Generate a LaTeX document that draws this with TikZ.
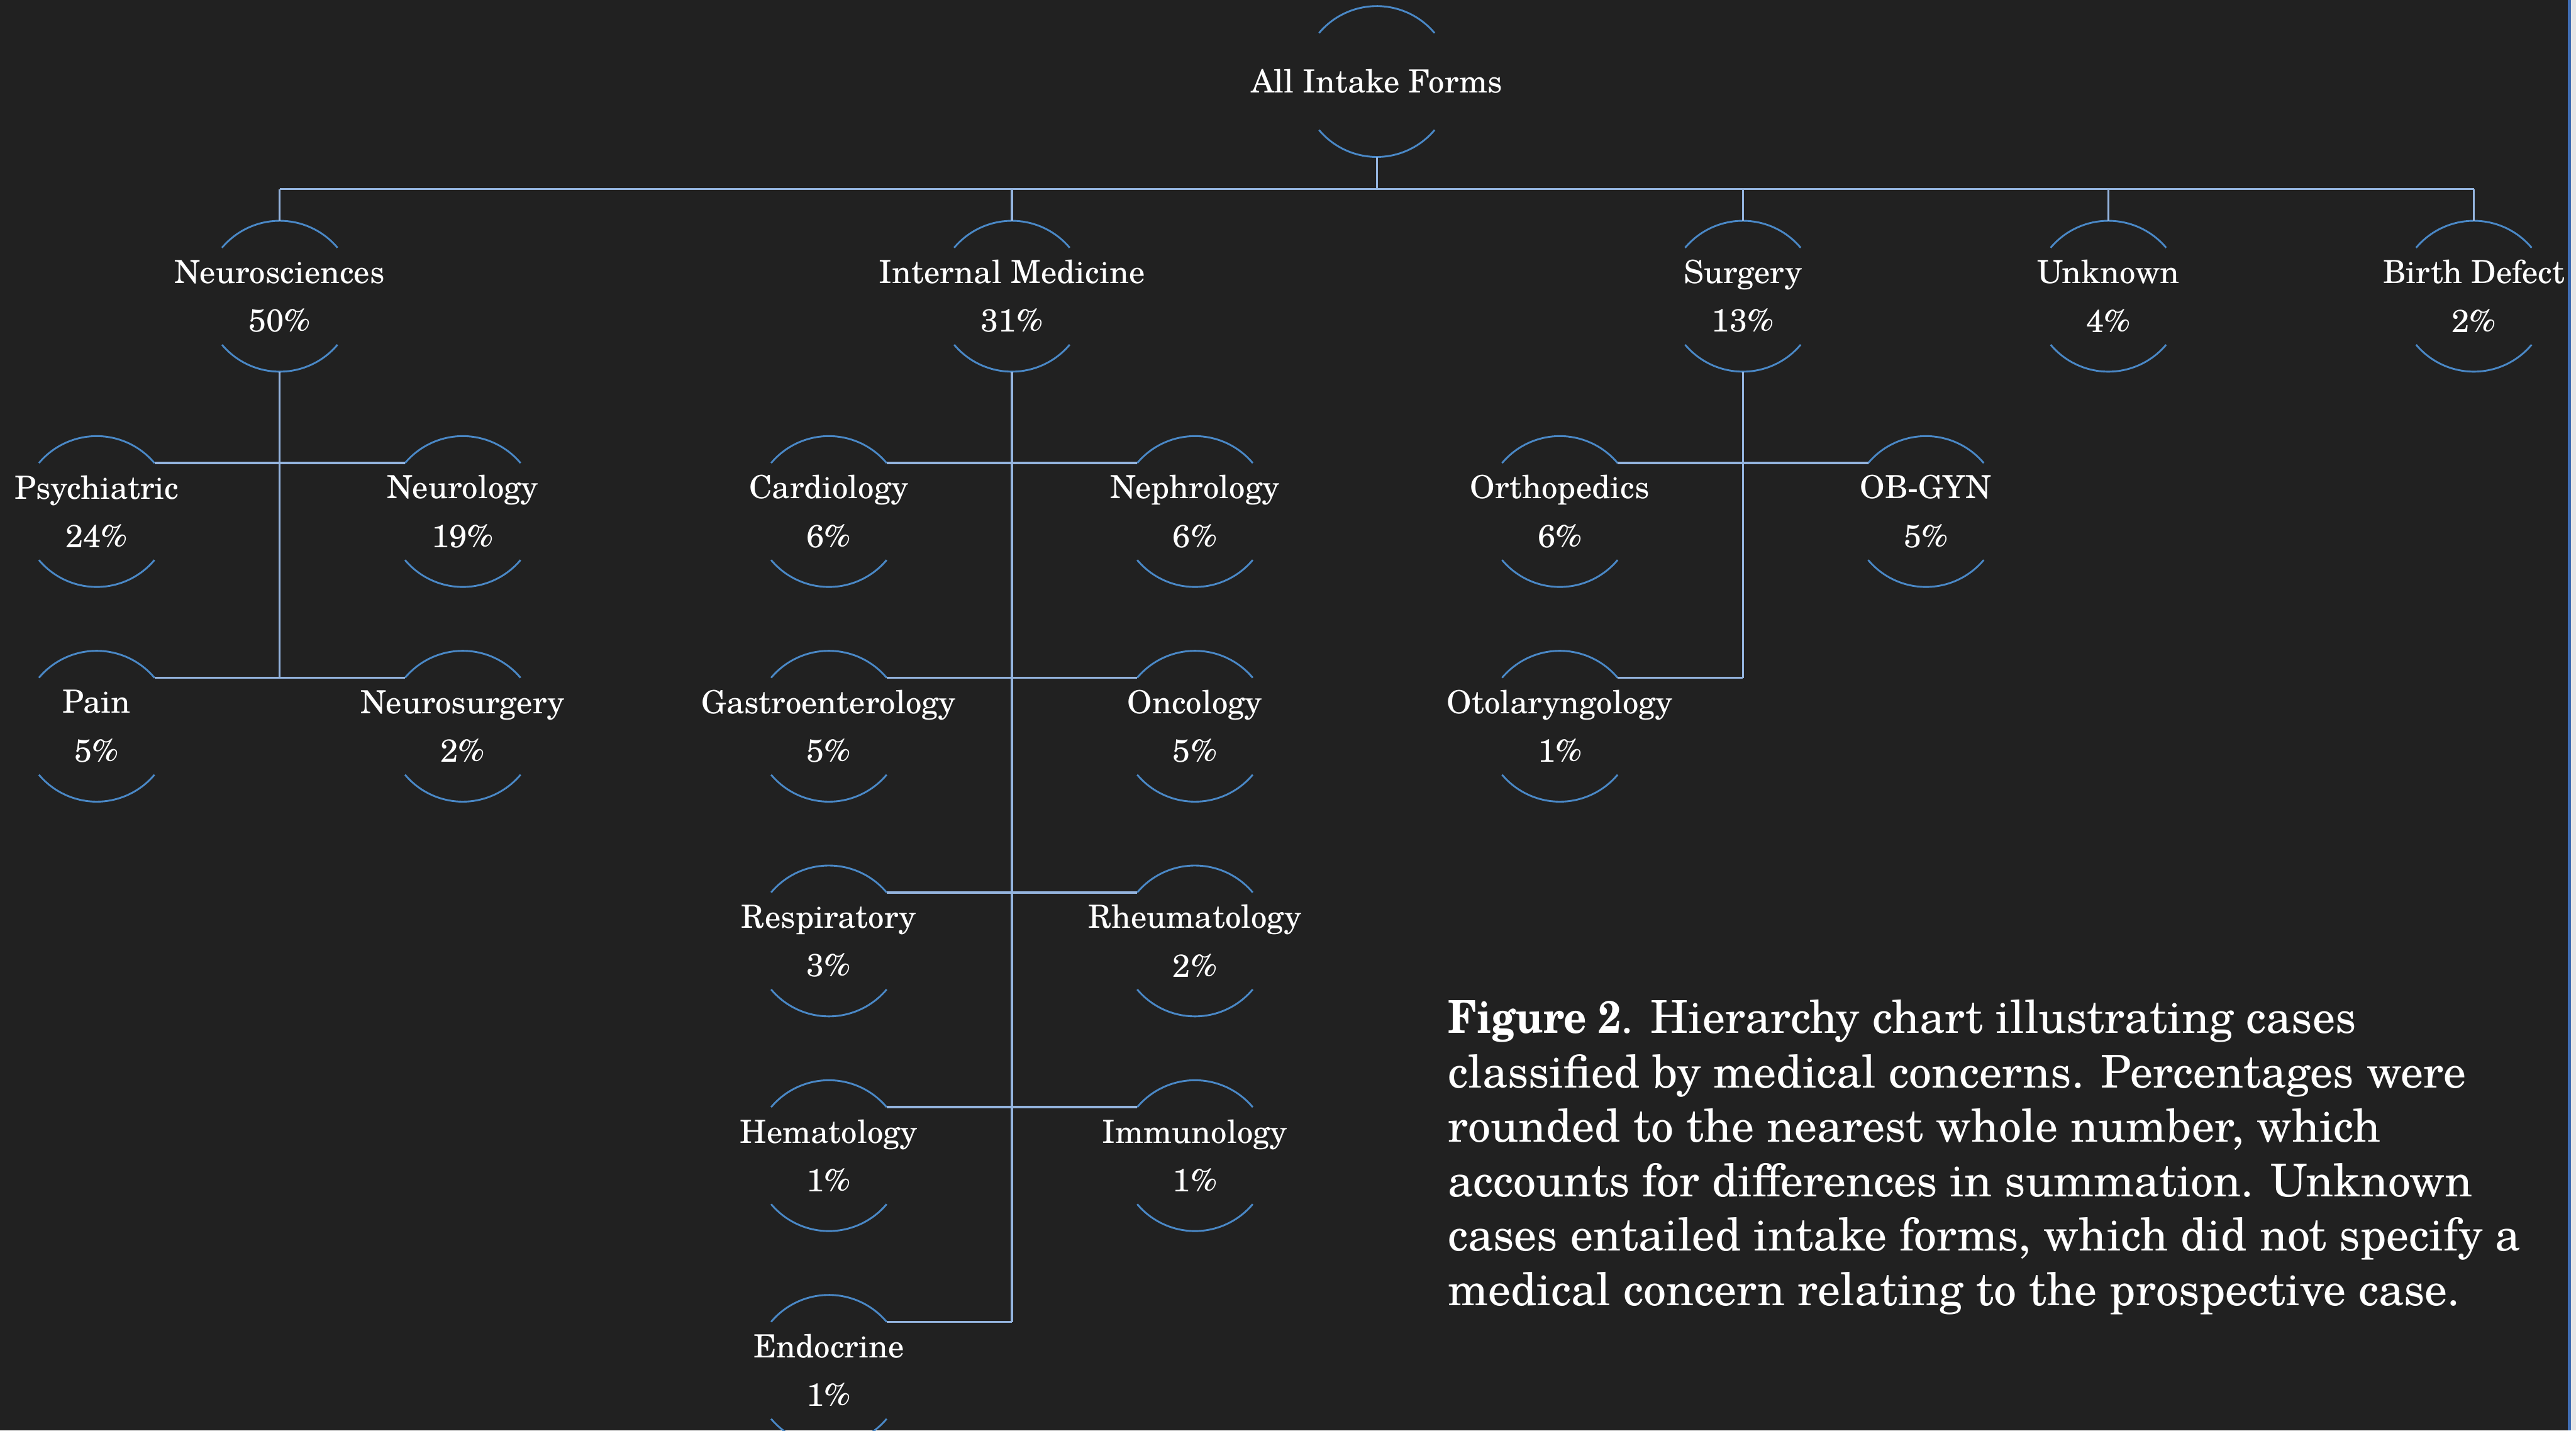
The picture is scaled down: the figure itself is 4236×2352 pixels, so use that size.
\documentclass[tikz,border=0pt]{standalone}
\usepackage{graphicx}
\usepackage{fontspec}
\setmainfont{TeX Gyre Schola}
\usetikzlibrary{calc}
\definecolor{bg}{HTML}{212121}
\definecolor{arcc}{HTML}{4A88C6}
\definecolor{connc}{HTML}{94B4DE}
\definecolor{frameblue}{HTML}{3F6DB3}
\definecolor{framegrey}{HTML}{E6E6E6}
\tikzset{
  lbl/.style={text=white, align=center, inner sep=0pt, outer sep=0pt,
              font=\fontsize{10.5}{16}\selectfont},
  arcst/.style={draw=arcc, line width=0.6pt},
  conn/.style={draw=connc, line width=0.7pt},
  captionst/.style={text=white, align=left, inner sep=0pt, anchor=north west,
              font=\fontsize{14.9}{17.9}\selectfont}
}
\newcommand{\mnode}[4]{%
  \node[lbl] (#1) at (#2,-#3) {#4};
  \coordinate (#1-t) at ($(#1.center)+(90:24.8pt)$);
  \coordinate (#1-b) at ($(#1.center)+(270:24.8pt)$);
  \coordinate (#1-l) at ($(#1.center)+(140:24.8pt)$);
  \coordinate (#1-r) at ($(#1.center)+(40:24.8pt)$);
  \draw[arcst] (#1-l) arc[start angle=140,end angle=40,radius=24.8pt];
  \draw[arcst] ($(#1.center)+(220:24.8pt)$) arc[start angle=220,end angle=320,radius=24.8pt];
}
\begin{document}
\begin{tikzpicture}[x=0.2pt,y=0.2pt]
\useasboundingbox (0,0) rectangle (4236,-2352);
\clip (0,0) rectangle (4236,-2352);
\fill[bg] (0,0) rectangle (4236,-2352);
\fill[frameblue] (4223,0) rectangle (4228,-2352);
\fill[framegrey] (4228,0) rectangle (4236,-2352);

% nodes
\mnode{root}{2264}{134}{All Intake Forms}
\mnode{neuro}{460}{487}{Neurosciences\\50\%}
\mnode{im}{1664}{487}{Internal Medicine\\31\%}
\mnode{surg}{2866}{487}{Surgery\\13\%}
\mnode{unk}{3467}{487}{Unknown\\4\%}
\mnode{birth}{4068}{487}{Birth Defect\\2\%}
\mnode{psy}{159}{841}{Psychiatric\\24\%}
\mnode{neurol}{761}{841}{Neurology\\19\%}
\mnode{pain}{159}{1194}{Pain\\5\%}
\mnode{nsurg}{761}{1194}{Neurosurgery\\2\%}
\mnode{card}{1363}{841}{Cardiology\\6\%}
\mnode{neph}{1965}{841}{Nephrology\\6\%}
\mnode{gastro}{1363}{1194}{Gastroenterology\\5\%}
\mnode{onc}{1965}{1194}{Oncology\\5\%}
\mnode{resp}{1363}{1547}{Respiratory\\3\%}
\mnode{rheum}{1965}{1547}{Rheumatology\\2\%}
\mnode{hema}{1363}{1900}{Hematology\\1\%}
\mnode{immu}{1965}{1900}{Immunology\\1\%}
\mnode{endo}{1363}{2253}{Endocrine\\1\%}
\mnode{ortho}{2565}{841}{Orthopedics\\6\%}
\mnode{obgyn}{3167}{841}{OB-GYN\\5\%}
\mnode{oto}{2565}{1194}{Otolaryngology\\1\%}

% top bus
\coordinate (bus) at (0,-311);
\draw[conn] (root-b) -- (root-b |- bus);
\draw[conn] (neuro-t |- bus) -- (birth-t |- bus);
\foreach \c in {neuro,im,surg,unk,birth}
  \draw[conn] (\c-t |- bus) -- (\c-t);

% neurosciences subtree
\draw[conn] (neuro-b) -- (neuro-b |- pain-r);
\draw[conn] (psy-r) -- (neurol-l);
\draw[conn] (pain-r) -- (nsurg-l);

% internal medicine subtree
\draw[conn] (im-b) -- (im-b |- endo-r);
\draw[conn] (card-r) -- (neph-l);
\draw[conn] (gastro-r) -- (onc-l);
\draw[conn] (resp-r) -- (rheum-l);
\draw[conn] (hema-r) -- (immu-l);
\draw[conn] (endo-r) -- (im-b |- endo-r);

% surgery subtree
\draw[conn] (surg-b) -- (surg-b |- oto-r);
\draw[conn] (ortho-r) -- (obgyn-l);
\draw[conn] (oto-r) -- (surg-b |- oto-r);

% caption
\node[captionst] (cap) at (2380,-1643) {\scalebox{0.88}[1]{\textbf{Figure 2}}. Hierarchy chart illustrating cases\\
classified by medical concerns. Percentages were\\
rounded to the nearest whole number, which\\
accounts for differences in summation. Unknown\\
cases entailed intake forms, which did not specify a\\
medical concern relating to the prospective case.};
\end{tikzpicture}
\end{document}
